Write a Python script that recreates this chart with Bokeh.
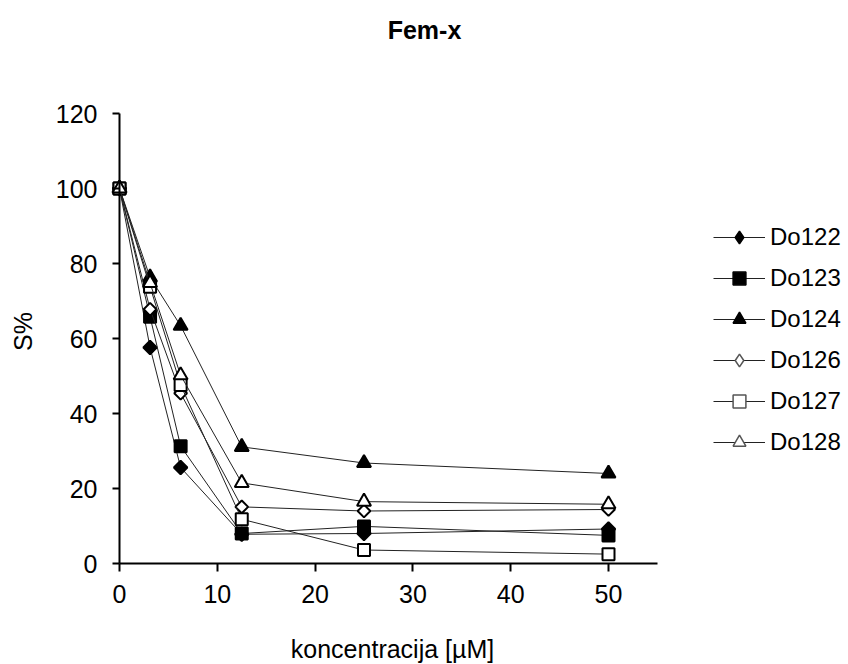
import numpy as np
from bokeh.plotting import figure
from bokeh.models import Range1d, FixedTicker, Legend, LegendItem, Label, ColumnDataSource
from bokeh.embed import file_html
from bokeh.resources import INLINE

# ---- data ----
conc = [0, 3.125, 6.25, 12.5, 25, 50]
series_names = ["Do122", "Do123", "Do124", "Do126", "Do127", "Do128"]
do122 = [100, 57.6, 25.6, 7.8, 8.0, 9.2]
do123 = [100, 65.8, 31.3, 8.0, 9.9, 7.5]
do124 = [100, 76.3, 63.4, 31.1, 26.8, 24.0]
do126 = [100, 67.8, 45.4, 15.1, 14.0, 14.4]
do127 = [100, 73.8, 47.6, 11.8, 3.6, 2.5]
do128 = [100, 74.8, 50.2, 21.5, 16.5, 15.8]
x_ticks = [0, 10, 20, 30, 40, 50]
y_ticks = [0, 20, 40, 60, 80, 100, 120]
x_axis_bounds = (0, 55)
y_axis_bounds = (0, 120)
title_text = "Fem-x"
x_label = "koncentracija [µM]"
y_label = "S%"

values = [do122, do123, do124, do126, do127, do128]
markers = ["square", "square", "triangle", "square", "square", "triangle"]
angles = [np.pi / 4, 0, 0, np.pi / 4, 0, 0]
sizes = [9.5, 12, 14, 9, 12, 14]
fills = ["black", "black", "black", "white", "white", "white"]
legend_markers = ["diamond", "square", "triangle", "diamond", "square", "triangle"]

FONT = "Liberation Sans"

# ---- layout (pixels) ----
W, H = 848, 664
X0_PX, Y0_PX = 119, 101       # where data (0,0) sits: from canvas left / canvas bottom
PX_PER_X = 489.0 / 50         # 50 units over 489 px
PX_PER_Y = 450.0 / 120        # 120 units over 450 px

x_range = Range1d(-X0_PX / PX_PER_X, (W - X0_PX) / PX_PER_X)
y_range = Range1d(-Y0_PX / PX_PER_Y, (H - Y0_PX) / PX_PER_Y)

p = figure(width=W, height=H, output_backend="svg", toolbar_location=None, title=None,
           x_range=x_range, y_range=y_range, min_border=0)
p.outline_line_color = None
p.xgrid.grid_line_color = None
p.ygrid.grid_line_color = None

for ax in (p.xaxis[0], p.yaxis[0]):
    ax.fixed_location = 0
    ax.axis_line_width = 2
    ax.major_tick_line_width = 2
    ax.minor_tick_line_color = None
    ax.major_tick_in = 0
    ax.major_label_text_font = FONT
    ax.major_label_text_font_size = "25px"
    ax.major_label_text_color = "black"

p.xaxis.bounds = x_axis_bounds
p.yaxis.bounds = y_axis_bounds
p.xaxis.ticker = FixedTicker(ticks=x_ticks)
p.yaxis.ticker = FixedTicker(ticks=y_ticks)
p.xaxis.major_tick_out = 8
p.yaxis.major_tick_out = 7
p.xaxis.major_label_standoff = 13
p.yaxis.major_label_standoff = 15

items = []
for name, vals, mk, ang, sz, fc, lm in zip(series_names, values, markers, angles, sizes, fills, legend_markers):
    src = ColumnDataSource(dict(x=conc, y=vals))
    lr = p.line("x", "y", source=src, line_color="#222222", line_width=1)
    p.scatter("x", "y", source=src, marker=mk, angle=ang, size=sz,
              fill_color=fc, line_color="black", line_width=2)
    # legend-only marker (not drawn in the plot: NaN position)
    dummy = p.scatter(x=[np.nan], y=[np.nan], marker=lm, fill_color=fc,
                      line_color="black" if fc == "black" else "#555555", line_width=1.5)
    items.append(LegendItem(label=name, renderers=[lr, dummy]))

legend = Legend(items=items, location=(713, 206), orientation="vertical",
                glyph_width=52, glyph_height=32, spacing=9, padding=0, margin=0,
                label_standoff=5, label_text_font=FONT, label_text_font_size="24px",
                label_text_color="black", border_line_color=None,
                background_fill_alpha=0)
p.add_layout(legend, "center")

common = dict(x_units="screen", y_units="screen", text_font=FONT, text_color="black",
              text_align="center", text_baseline="middle")
p.add_layout(Label(x=424, y=H - 29, text=title_text, text_font_size="25px",
                   text_font_style="bold", **common))
p.add_layout(Label(x=392, y=H - 648, text=x_label, text_font_size="25px", **common))
p.add_layout(Label(x=22, y=H - 331, text=y_label, text_font_size="25px",
                   angle=np.pi / 2, **common))

open("out.html", "w").write(file_html(p, INLINE))
